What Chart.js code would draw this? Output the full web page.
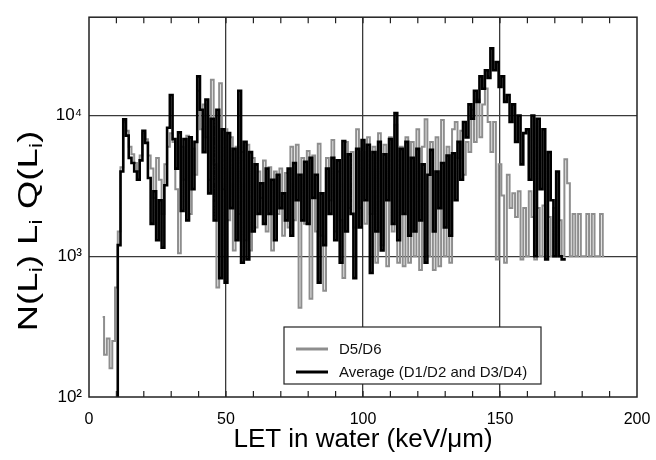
<!DOCTYPE html>
<html>
<head>
<meta charset="utf-8">
<script src="https://cdn.jsdelivr.net/npm/chart.js@4.4.0/dist/chart.umd.min.js"></script>
<style>
  html, body { margin: 0; padding: 0; background: #fff; }
  #wrap { width: 656px; height: 460px; position: relative; }
</style>
</head>
<body>
<div id="wrap"><canvas id="letChart"></canvas></div>
<script>
// LET bins in keV/um, one value per 1 keV/um bin, starting at the first bin of each series
const greyStart = 5;
const greyValues = [
  370, 200, 260, 160, 250, 600, 1500, 4300, 9000, 7800,          // 5-14
  6000, 5300, 4600, 4000, 5200, 7500, 6800, 5200, 4200, 2600,    // 15-24
  5000, 3500, 2000, 4500, 6000, 7500, 6500, 3000, 1050, 6000,    // 25-34
  3500, 7200, 2000, 5800, 3800, 15000, 8000, 12000, 7000, 3500,  // 35-44
  18000, 4500, 600, 17000, 3000, 8000, 1800, 7000, 1100, 6000,   // 45-54
  2000, 5500, 1300, 6200, 1100, 5000, 1600, 4000, 2600, 4800,    // 55-64
  1500, 4300, 1100, 4000, 2000, 4200, 1400, 3900, 1600, 6000,    // 65-74
  1800, 6200, 430, 5000, 1700, 5600, 500, 5200, 1500, 6300,      // 75-84
  1400, 570, 5000, 2500, 6700, 1500, 4000, 1800, 700, 6500,      // 85-94
  2200, 5500, 1600, 8000, 2200, 5500, 1700, 7000, 2000, 6000,    // 95-104
  900, 7500, 1200, 6200, 850, 7000, 1500, 8600, 900, 6000,       // 105-114
  850, 7000, 900, 6500, 1000, 8000, 800, 6000, 9400, 1000,       // 115-124
  6500, 800, 7000, 850, 9300, 1000, 6000, 900, 8000, 9000,       // 125-134
  5000, 7800, 3800, 6500, 5500, 11000, 6500, 13000, 7000, 12000, // 135-144
  15600, 9000, 5500, 9000, 950, 4500, 2700, 900, 3800, 2200,     // 145-154
  2800, 1900, 2900, 950, 2200, 1000, 2900, 1900, 950, 2200,      // 155-164
  1000, 2300, 1000, 1900, 1000, 2200, 1000, 1800, 1000, 4900,    // 165-174
  3300, 1000, 2000, 1000, 2000, 1000, 1000, 2000, 1000, 2000,    // 175-184
  1000, 1000, 2000, 1000                                         // 185-188
];

const blackStart = 10;
const blackValues = [
  100, 1200, 4000, 9400, 7200, 5000, 4600, 4000, 3500, 4800,     // 10-19
  7800, 6400, 3600, 1700, 2900, 1300, 2500, 1150, 3200, 8200,    // 20-29
  14000, 6800, 4200, 7600, 2100, 6800, 1800, 7000, 3000, 6500,   // 30-39
  19000, 11000, 5500, 13000, 2800, 9500, 1800, 11000, 700, 8000, // 40-49
  650, 7500, 2200, 5800, 1300, 15000, 900, 6500, 950, 5500,      // 50-59
  1500, 4500, 2000, 3300, 1700, 4200, 2000, 3500, 1300, 3800,    // 60-69
  2200, 2800, 1800, 4200, 1400, 4600, 2500, 3800, 1800, 4700,    // 70-79
  1700, 5000, 2600, 3800, 650, 2800, 1200, 4200, 2000, 5000,     // 80-89
  1300, 4800, 900, 6600, 1500, 5300, 2000, 700, 5800, 1600,      // 90-99
  6700, 2500, 6200, 760, 5500, 1500, 6500, 1100, 5300, 2500,     // 100-109
  6800, 1700, 10400, 1300, 5800, 2000, 6500, 1400, 5000, 1500,   // 110-119
  5800, 1800, 4500, 900, 3800, 5700, 1500, 4000, 2200, 4600,     // 120-129
  1600, 5200, 1400, 5400, 2500, 6500, 3500, 9000, 7000, 12000,   // 130-139
  9500, 15000, 12500, 19000, 15500, 21000, 18500, 30000, 21000, 24000,  // 140-149
  16000, 19000, 12500, 14000, 9000, 12000, 6500, 10000, 4500, 7500,     // 150-159
  8000, 3500, 10000, 1000, 9500, 3000, 8000, 950, 5500, 2500,    // 160-169
  1000, 4000, 1000, 950, 950                                     // 170-174
];

const seriesNames = ['D5/D6', 'Average (D1/D2 and D3/D4)'];
const xTickLabels = [0, 50, 100, 150, 200];
const yTickValues = [100, 1000, 10000];
const yTickLabels = ['10²', '10³', '10⁴'];

function toPoints(start, values) {
  return values.map((v, i) => ({ x: start + i, y: v }));
}

const gridColor = '#3a3a3a';

// frame, inward minor ticks, y title with subscripts, boxed legend
const extras = {
  id: 'extras',
  afterDraw(chart) {
    const c = chart.ctx;
    const a = chart.chartArea;
    const xs = chart.scales.x;
    c.save();
    c.strokeStyle = '#222';
    c.lineWidth = 1.5;
    c.strokeRect(a.left, a.top, a.right - a.left, a.bottom - a.top);

    c.lineWidth = 1.2;
    xs.ticks.forEach(t => {
      if (t.value <= 0 || t.value >= 200) return;
      const px = xs.getPixelForValue(t.value);
      c.beginPath();
      c.moveTo(px, a.bottom); c.lineTo(px, a.bottom - 6);
      c.moveTo(px, a.top); c.lineTo(px, a.top + 6);
      c.stroke();
    });

    // y title: N(Li) Li Q(Li)
    const parts = [['N(L', 0], ['i', 1], [') L', 0], ['i', 1], [' Q(L', 0], ['i', 1], [')', 0]];
    const big = '28px "Liberation Sans", Arial, sans-serif';
    const small = '19px "Liberation Sans", Arial, sans-serif';
    let total = 0;
    parts.forEach(p => { c.font = p[1] ? small : big; total += c.measureText(p[0]).width; });
    const stretch = 1.3;
    c.translate(29, 231);
    c.rotate(-Math.PI / 2);
    c.scale(stretch, 1);
    c.fillStyle = '#000';
    c.textBaseline = 'middle';
    let x = -total / 2;
    parts.forEach(p => {
      c.font = p[1] ? small : big;
      c.fillText(p[0], x, p[1] ? 8 : 0);
      x += c.measureText(p[0]).width;
    });
    c.restore();

    // legend box
    c.save();
    const bx = 284, by = 327, bw = 257, bh = 57;
    c.fillStyle = '#fff';
    c.fillRect(bx, by, bw, bh);
    c.strokeStyle = '#222';
    c.lineWidth = 1.2;
    c.strokeRect(bx, by, bw, bh);
    c.font = '15px "Liberation Sans", Arial, sans-serif';
    c.textBaseline = 'middle';
    const ds = chart.data.datasets;
    [0, 1].forEach(i => {
      const ly = by + 22 + i * 23;
      c.strokeStyle = ds[i].borderColor;
      c.lineWidth = 3;
      c.beginPath();
      c.moveTo(bx + 12, ly); c.lineTo(bx + 44, ly);
      c.stroke();
      c.fillStyle = '#111';
      c.fillText(ds[i].label, bx + 55, ly + 1);
    });
    c.restore();
  }
};

new Chart(document.getElementById('letChart').getContext('2d'), {
  type: 'line',
  data: {
    datasets: [
      {
        label: seriesNames[0],
        data: toPoints(greyStart, greyValues),
        borderColor: '#8e8e8e',
        borderWidth: 2,
        stepped: 'middle',
        pointRadius: 0,
        fill: false,
        order: 1
      },
      {
        label: seriesNames[1],
        data: toPoints(blackStart, blackValues),
        borderColor: '#000000',
        borderWidth: 2.6,
        stepped: 'middle',
        pointRadius: 0,
        fill: false,
        order: 0
      }
    ]
  },
  options: {
    responsive: true,
    maintainAspectRatio: false,
    animation: false,
    layout: { padding: { top: 13, right: 19, left: 0, bottom: 0 } },
    plugins: { legend: { display: false }, tooltip: { enabled: false } },
    scales: {
      x: {
        type: 'linear',
        min: 0,
        max: 200,
        afterFit: s => { s.height = 63; s.paddingLeft = 0; s.paddingRight = 0; },
        ticks: {
          stepSize: 10,
          autoSkip: false,
          maxRotation: 0,
          padding: 13,
          color: '#000',
          font: { family: '"Liberation Sans", Arial, sans-serif', size: 16 },
          callback: v => xTickLabels.includes(v) ? String(v) : ''
        },
        grid: {
          drawTicks: false,
          lineWidth: 1.3,
          color: ctx => (ctx.tick && ctx.tick.value % 50 === 0 && ctx.tick.value > 0 && ctx.tick.value < 200) ? gridColor : 'rgba(0,0,0,0)'
        },
        border: { display: false },
        title: {
          display: true,
          text: 'LET in water (keV/μm)',
          color: '#000',
          font: { family: '"Liberation Sans", Arial, sans-serif', size: 26 },
          padding: { top: 0, bottom: 5 }
        }
      },
      y: {
        type: 'logarithmic',
        min: 100,
        max: 50000,
        afterFit: s => { s.width = 89; },
        afterBuildTicks: s => { s.ticks = yTickValues.map(v => ({ value: v })); },
        ticks: {
          padding: 7,
          color: '#000',
          font: { family: '"Liberation Sans", Arial, sans-serif', size: 17 },
          callback: v => yTickLabels[yTickValues.indexOf(v)]
        },
        grid: {
          drawTicks: false,
          lineWidth: 1.3,
          color: ctx => (ctx.tick && (ctx.tick.value === 1000 || ctx.tick.value === 10000)) ? gridColor : 'rgba(0,0,0,0)'
        },
        border: { display: false }
      }
    }
  },
  plugins: [extras]
});
</script>
</body>
</html>
